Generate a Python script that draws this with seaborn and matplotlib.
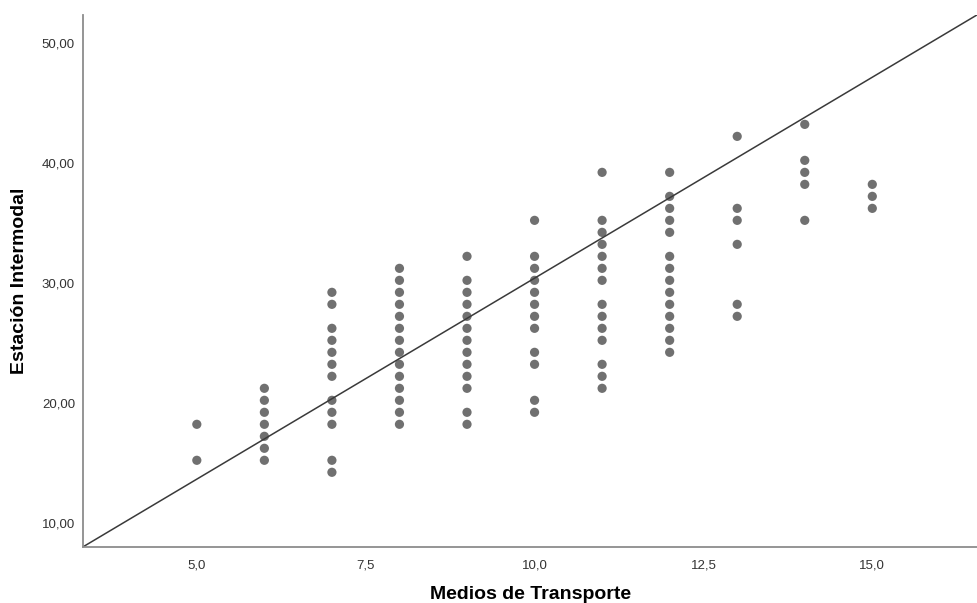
import matplotlib
matplotlib.use("Agg")
import matplotlib.pyplot as plt
import matplotlib.transforms as mtransforms
import seaborn as sns
import pandas as pd
from matplotlib.ticker import MultipleLocator, FuncFormatter

# Data (x = Medios de Transporte, y = Estación Intermodal)
x5 = [18, 15]
x6 = [21, 20, 19, 18, 17, 16, 15]
x7 = [29, 28, 26, 25, 24, 23, 22, 20, 19, 18, 15, 14]
x8 = [31, 30, 29, 28, 27, 26, 25, 24, 23, 22, 21, 20, 19, 18]
x9 = [32, 30, 29, 28, 27, 26, 25, 24, 23, 22, 21, 19, 18]
x10 = [35, 32, 31, 30, 29, 28, 27, 26, 24, 23, 20, 19]
x11 = [39, 35, 34, 33, 32, 31, 30, 28, 27, 26, 25, 23, 22, 21]
x12 = [39, 37, 36, 35, 34, 32, 31, 30, 29, 28, 27, 26, 25, 24]
x13 = [42, 36, 35, 33, 28, 27]
x14 = [43, 40, 39, 38, 35]
x15 = [38, 37, 36]

groups = {5: x5, 6: x6, 7: x7, 8: x8, 9: x9, 10: x10, 11: x11,
          12: x12, 13: x13, 14: x14, 15: x15}

# Fit / reference line
line_intercept = -3.32
line_slope = 3.35

xs, ys = [], []
for k, vals in groups.items():
    for v in vals:
        xs.append(k)
        ys.append(v)
df = pd.DataFrame({"Medios de Transporte": xs, "Estación Intermodal": ys})

sns.set_theme(style="white")
plt.rcParams['font.family'] = ['Liberation Sans', 'DejaVu Sans']

fig = plt.figure(figsize=(9.77, 6.03), dpi=100)
ax = fig.add_axes([0.0853, 0.0934, 0.9147, 0.8816])

sns.scatterplot(data=df, x="Medios de Transporte", y="Estación Intermodal",
                ax=ax, color="#707070", s=44, edgecolor="none", linewidth=0)

ax.axline((0, line_intercept), slope=line_slope, color="#3a3a3a", lw=1.1)

ax.set_xlim(3.32, 16.55)
ax.set_ylim(7.80, 52.11)

ax.xaxis.set_major_locator(MultipleLocator(2.5))
ax.yaxis.set_major_locator(MultipleLocator(10))
ax.xaxis.set_major_formatter(FuncFormatter(lambda v, p: f"{v:.1f}".replace(".", ",")))
ax.yaxis.set_major_formatter(FuncFormatter(lambda v, p: f"{v:.2f}".replace(".", ",")))

ax.tick_params(axis="both", length=0, labelsize=9.5, colors="#333333")
ax.tick_params(axis="x", pad=9)
ax.tick_params(axis="y", pad=6)

# y tick labels sit a few pixels below their gridline positions in the reference
offset = mtransforms.ScaledTranslation(0, -3 / 100, fig.dpi_scale_trans)
for lbl in ax.get_yticklabels():
    lbl.set_transform(lbl.get_transform() + offset)

for side in ["top", "right"]:
    ax.spines[side].set_visible(False)
for side in ["left", "bottom"]:
    ax.spines[side].set_color("#8c8c8c")
    ax.spines[side].set_linewidth(1.3)

ax.set_xlabel("Medios de Transporte", fontsize=14, fontweight="bold",
              color="black", labelpad=11)
ax.set_ylabel("Estación Intermodal", fontsize=14, fontweight="bold",
              color="black", labelpad=10)

fig.savefig("out.png", dpi=100)
